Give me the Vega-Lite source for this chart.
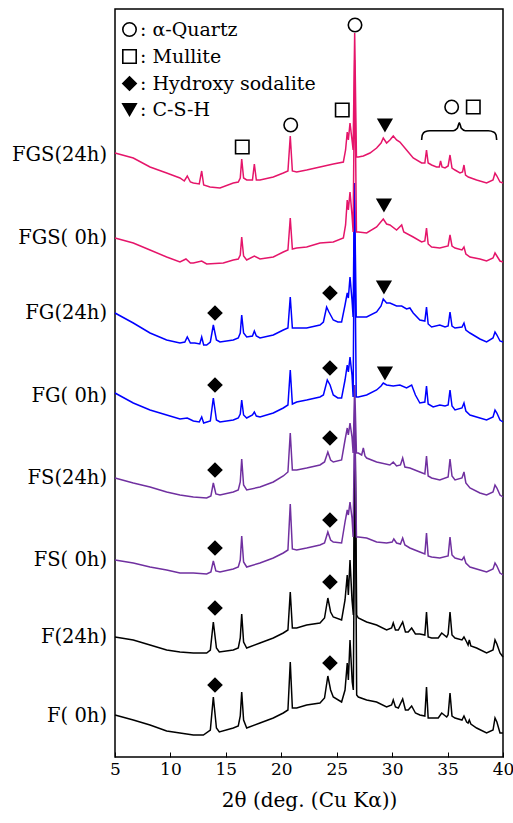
{
  "$schema": "https://vega.github.io/schema/vega-lite/v6.json",
  "width": 388,
  "height": 748,
  "autosize": {"type": "none"},
  "padding": {"left": 115, "top": 9, "right": 10, "bottom": 66},
  "background": "white",
  "datasets": {
    "F0": [
      {"x":5,"i":42},{"x":6.65,"i":37},{"x":8.16,"i":32},{"x":9.66,"i":26},{"x":10.86,"i":24},{"x":12.07,"i":22},{"x":12.97,"i":22},{"x":13.6,"i":27},{"x":13.87,"i":60},{"x":14.15,"i":29},{"x":14.41,"i":25},{"x":15.67,"i":29},{"x":16.12,"i":31},{"x":16.3,"i":41},{"x":16.43,"i":65},{"x":16.6,"i":37},{"x":16.88,"i":29},{"x":18.08,"i":34},{"x":19.28,"i":39},{"x":20.18,"i":44},{"x":20.6,"i":47},{"x":20.81,"i":95},{"x":21.0,"i":49},{"x":21.39,"i":49},{"x":22.29,"i":52},{"x":23.49,"i":54},{"x":23.9,"i":59},{"x":24.2,"i":81},{"x":24.45,"i":67},{"x":24.69,"i":60},{"x":25.44,"i":55},{"x":25.75,"i":67},{"x":25.95,"i":94},{"x":26.05,"i":77},{"x":26.2,"i":117},{"x":26.4,"i":75},{"x":26.5,"i":67},{"x":26.65,"i":327},{"x":26.8,"i":62},{"x":26.95,"i":60},{"x":27.7,"i":57},{"x":28.6,"i":55},{"x":29.5,"i":50},{"x":29.95,"i":52},{"x":30.1,"i":57},{"x":30.3,"i":50},{"x":30.56,"i":49},{"x":30.95,"i":58},{"x":31.2,"i":47},{"x":31.45,"i":47},{"x":31.76,"i":51},{"x":32.1,"i":44},{"x":32.5,"i":42},{"x":32.95,"i":41},{"x":33.1,"i":70},{"x":33.25,"i":39},{"x":33.56,"i":39},{"x":34.16,"i":39},{"x":34.47,"i":44},{"x":34.92,"i":40},{"x":35.05,"i":42},{"x":35.22,"i":64},{"x":35.4,"i":41},{"x":35.67,"i":39},{"x":36.3,"i":37},{"x":36.48,"i":41},{"x":36.72,"i":35},{"x":36.85,"i":34},{"x":36.96,"i":37},{"x":37.1,"i":33},{"x":37.62,"i":29},{"x":38.52,"i":24},{"x":39.1,"i":27},{"x":39.28,"i":39},{"x":39.45,"i":35},{"x":39.73,"i":24},{"x":40,"i":24}
    ],
    "F24": [
      {"x":5,"i":120},{"x":6.65,"i":117},{"x":8.16,"i":112},{"x":9.66,"i":107},{"x":10.86,"i":105},{"x":12.07,"i":104},{"x":13.27,"i":104},{"x":13.6,"i":107},{"x":13.87,"i":135},{"x":14.15,"i":109},{"x":14.41,"i":105},{"x":15.67,"i":107},{"x":16.12,"i":109},{"x":16.3,"i":119},{"x":16.43,"i":143},{"x":16.6,"i":115},{"x":16.88,"i":109},{"x":18.08,"i":114},{"x":19.28,"i":119},{"x":20.18,"i":124},{"x":20.6,"i":127},{"x":20.81,"i":165},{"x":21.0,"i":129},{"x":21.39,"i":129},{"x":22.29,"i":132},{"x":23.49,"i":134},{"x":23.9,"i":139},{"x":24.2,"i":159},{"x":24.45,"i":145},{"x":24.69,"i":140},{"x":25.44,"i":137},{"x":25.75,"i":157},{"x":25.95,"i":182},{"x":26.05,"i":162},{"x":26.2,"i":197},{"x":26.38,"i":157},{"x":26.5,"i":142},{"x":26.65,"i":334},{"x":26.8,"i":142},{"x":26.95,"i":139},{"x":27.7,"i":135},{"x":28.6,"i":132},{"x":29.5,"i":127},{"x":29.95,"i":129},{"x":30.1,"i":134},{"x":30.3,"i":127},{"x":30.56,"i":127},{"x":30.95,"i":135},{"x":31.2,"i":125},{"x":31.45,"i":125},{"x":31.76,"i":129},{"x":32.1,"i":123},{"x":32.5,"i":123},{"x":32.95,"i":122},{"x":33.1,"i":145},{"x":33.25,"i":120},{"x":33.56,"i":119},{"x":34.16,"i":119},{"x":34.47,"i":124},{"x":34.92,"i":120},{"x":35.05,"i":123},{"x":35.22,"i":145},{"x":35.4,"i":122},{"x":35.67,"i":119},{"x":36.3,"i":117},{"x":36.48,"i":120},{"x":36.72,"i":115},{"x":36.85,"i":112},{"x":36.96,"i":117},{"x":37.1,"i":111},{"x":37.62,"i":109},{"x":38.52,"i":104},{"x":39.1,"i":107},{"x":39.28,"i":117},{"x":39.45,"i":113},{"x":39.73,"i":104},{"x":40,"i":100}
    ],
    "FS0": [
      {"x":5,"i":197},{"x":6.65,"i":194},{"x":8.16,"i":190},{"x":9.66,"i":187},{"x":10.86,"i":184},{"x":12.07,"i":184},{"x":13.27,"i":183},{"x":13.65,"i":185},{"x":13.87,"i":196},{"x":14.1,"i":186},{"x":14.47,"i":185},{"x":15.67,"i":188},{"x":16.12,"i":190},{"x":16.3,"i":197},{"x":16.43,"i":221},{"x":16.6,"i":195},{"x":16.88,"i":190},{"x":18.08,"i":194},{"x":19.28,"i":199},{"x":20.18,"i":204},{"x":20.6,"i":207},{"x":20.81,"i":253},{"x":21.0,"i":208},{"x":21.39,"i":207},{"x":22.29,"i":209},{"x":23.49,"i":212},{"x":23.9,"i":214},{"x":24.2,"i":225},{"x":24.45,"i":217},{"x":24.69,"i":215},{"x":25.44,"i":214},{"x":25.75,"i":235},{"x":25.95,"i":247},{"x":26.05,"i":242},{"x":26.2,"i":255},{"x":26.38,"i":239},{"x":26.48,"i":220},{"x":26.62,"i":347},{"x":26.78,"i":220},{"x":26.95,"i":220},{"x":27.7,"i":219},{"x":28.6,"i":215},{"x":29.5,"i":214},{"x":30.0,"i":215},{"x":30.15,"i":218},{"x":30.4,"i":214},{"x":30.75,"i":213},{"x":30.95,"i":219},{"x":31.15,"i":212},{"x":31.6,"i":209},{"x":32.5,"i":205},{"x":32.95,"i":203},{"x":33.1,"i":224},{"x":33.25,"i":201},{"x":33.56,"i":200},{"x":34.3,"i":199},{"x":35.05,"i":201},{"x":35.22,"i":220},{"x":35.4,"i":202},{"x":35.67,"i":199},{"x":36.3,"i":197},{"x":36.48,"i":200},{"x":36.65,"i":194},{"x":37.02,"i":190},{"x":37.92,"i":187},{"x":38.52,"i":185},{"x":39.1,"i":188},{"x":39.28,"i":194},{"x":39.45,"i":191},{"x":39.73,"i":184},{"x":40,"i":182}
    ],
    "FS24": [
      {"x":5,"i":279},{"x":6.65,"i":274},{"x":8.16,"i":270},{"x":9.66,"i":265},{"x":10.86,"i":262},{"x":12.07,"i":260},{"x":13.27,"i":259},{"x":13.65,"i":261},{"x":13.87,"i":274},{"x":14.1,"i":263},{"x":14.47,"i":262},{"x":15.67,"i":265},{"x":16.12,"i":267},{"x":16.3,"i":275},{"x":16.43,"i":298},{"x":16.6,"i":272},{"x":16.88,"i":267},{"x":18.08,"i":270},{"x":19.28,"i":275},{"x":20.18,"i":281},{"x":20.6,"i":285},{"x":20.81,"i":324},{"x":21.0,"i":287},{"x":21.39,"i":287},{"x":22.29,"i":289},{"x":23.49,"i":292},{"x":23.9,"i":295},{"x":24.2,"i":305},{"x":24.45,"i":297},{"x":24.69,"i":295},{"x":25.44,"i":297},{"x":25.75,"i":317},{"x":25.95,"i":329},{"x":26.05,"i":322},{"x":26.2,"i":334},{"x":26.38,"i":320},{"x":26.48,"i":304},{"x":26.62,"i":372},{"x":26.78,"i":304},{"x":26.95,"i":304},{"x":27.25,"i":302},{"x":27.4,"i":309},{"x":27.55,"i":301},{"x":27.7,"i":299},{"x":28.6,"i":295},{"x":29.8,"i":292},{"x":30.1,"i":295},{"x":30.4,"i":291},{"x":30.75,"i":292},{"x":30.95,"i":299},{"x":31.15,"i":290},{"x":31.6,"i":289},{"x":32.5,"i":285},{"x":32.95,"i":283},{"x":33.1,"i":301},{"x":33.25,"i":281},{"x":33.56,"i":279},{"x":34.3,"i":277},{"x":35.05,"i":280},{"x":35.22,"i":298},{"x":35.4,"i":281},{"x":35.67,"i":277},{"x":36.3,"i":279},{"x":36.48,"i":285},{"x":36.65,"i":274},{"x":37.02,"i":269},{"x":37.92,"i":264},{"x":38.52,"i":262},{"x":39.1,"i":265},{"x":39.28,"i":272},{"x":39.45,"i":269},{"x":39.73,"i":262},{"x":40,"i":260}
    ],
    "FG0": [
      {"x":5,"i":364},{"x":6.65,"i":354},{"x":8.16,"i":347},{"x":9.66,"i":342},{"x":10.86,"i":338},{"x":11.52,"i":339},{"x":12.07,"i":336},{"x":12.6,"i":335},{"x":12.82,"i":340},{"x":13.0,"i":334},{"x":13.6,"i":336},{"x":13.87,"i":359},{"x":14.15,"i":337},{"x":14.47,"i":335},{"x":15.67,"i":337},{"x":16.12,"i":339},{"x":16.3,"i":343},{"x":16.43,"i":357},{"x":16.6,"i":342},{"x":16.88,"i":339},{"x":17.4,"i":342},{"x":17.57,"i":345},{"x":17.75,"i":341},{"x":18.08,"i":340},{"x":19.28,"i":344},{"x":20.18,"i":349},{"x":20.6,"i":352},{"x":20.81,"i":387},{"x":21.0,"i":353},{"x":21.39,"i":355},{"x":22.29,"i":357},{"x":23.49,"i":360},{"x":23.8,"i":362},{"x":24.15,"i":377},{"x":24.4,"i":372},{"x":24.69,"i":362},{"x":25.1,"i":359},{"x":25.44,"i":359},{"x":25.75,"i":377},{"x":25.95,"i":392},{"x":26.05,"i":385},{"x":26.2,"i":400},{"x":26.38,"i":382},{"x":26.48,"i":360},{"x":26.6,"i":557},{"x":26.76,"i":360},{"x":26.95,"i":360},{"x":27.7,"i":362},{"x":28.6,"i":367},{"x":29.0,"i":371},{"x":29.2,"i":374},{"x":29.5,"i":372},{"x":30.1,"i":371},{"x":30.7,"i":372},{"x":31.3,"i":369},{"x":31.76,"i":372},{"x":32.1,"i":362},{"x":32.5,"i":354},{"x":32.95,"i":355},{"x":33.1,"i":371},{"x":33.25,"i":353},{"x":33.7,"i":350},{"x":34.3,"i":352},{"x":34.77,"i":351},{"x":35.05,"i":352},{"x":35.22,"i":367},{"x":35.4,"i":351},{"x":35.67,"i":347},{"x":36.3,"i":349},{"x":36.48,"i":354},{"x":36.65,"i":346},{"x":37.02,"i":342},{"x":37.92,"i":339},{"x":38.52,"i":337},{"x":39.1,"i":340},{"x":39.28,"i":347},{"x":39.45,"i":344},{"x":39.73,"i":337},{"x":40,"i":335}
    ],
    "FG24": [
      {"x":5,"i":444},{"x":6.65,"i":434},{"x":8.16,"i":424},{"x":9.66,"i":417},{"x":10.86,"i":414},{"x":11.3,"i":415},{"x":11.52,"i":420},{"x":11.8,"i":414},{"x":12.2,"i":414},{"x":12.65,"i":413},{"x":12.82,"i":420},{"x":13.0,"i":412},{"x":13.27,"i":412},{"x":13.6,"i":415},{"x":13.87,"i":432},{"x":14.15,"i":417},{"x":14.47,"i":415},{"x":15.67,"i":417},{"x":16.12,"i":419},{"x":16.3,"i":424},{"x":16.43,"i":442},{"x":16.6,"i":424},{"x":16.88,"i":420},{"x":17.4,"i":421},{"x":17.57,"i":426},{"x":17.75,"i":421},{"x":18.08,"i":419},{"x":19.28,"i":422},{"x":20.18,"i":427},{"x":20.6,"i":429},{"x":20.81,"i":460},{"x":21.0,"i":429},{"x":21.39,"i":429},{"x":22.29,"i":429},{"x":23.49,"i":432},{"x":23.8,"i":435},{"x":24.09,"i":450},{"x":24.3,"i":445},{"x":24.69,"i":437},{"x":25.1,"i":435},{"x":25.44,"i":435},{"x":25.75,"i":452},{"x":25.95,"i":464},{"x":26.05,"i":459},{"x":26.2,"i":480},{"x":26.38,"i":457},{"x":26.48,"i":440},{"x":26.6,"i":574},{"x":26.76,"i":440},{"x":26.95,"i":440},{"x":27.7,"i":440},{"x":28.6,"i":445},{"x":29.0,"i":451},{"x":29.2,"i":458},{"x":29.5,"i":454},{"x":29.8,"i":454},{"x":30.4,"i":451},{"x":30.86,"i":451},{"x":31.3,"i":448},{"x":31.6,"i":449},{"x":31.9,"i":444},{"x":32.5,"i":437},{"x":32.95,"i":436},{"x":33.1,"i":450},{"x":33.25,"i":433},{"x":33.56,"i":430},{"x":34.3,"i":432},{"x":34.77,"i":430},{"x":35.05,"i":431},{"x":35.22,"i":445},{"x":35.4,"i":431},{"x":35.67,"i":429},{"x":36.3,"i":430},{"x":36.48,"i":434},{"x":36.65,"i":427},{"x":37.02,"i":424},{"x":37.92,"i":418},{"x":38.52,"i":415},{"x":39.1,"i":419},{"x":39.28,"i":425},{"x":39.45,"i":422},{"x":39.73,"i":416},{"x":40,"i":415}
    ],
    "FGS0": [
      {"x":5,"i":519},{"x":6.65,"i":514},{"x":8.16,"i":507},{"x":9.66,"i":500},{"x":10.86,"i":495},{"x":11.4,"i":498},{"x":11.8,"i":494},{"x":12.07,"i":494},{"x":12.82,"i":496},{"x":13.27,"i":493},{"x":14.77,"i":494},{"x":15.67,"i":497},{"x":16.12,"i":498},{"x":16.3,"i":502},{"x":16.43,"i":520},{"x":16.6,"i":501},{"x":16.88,"i":497},{"x":17.57,"i":501},{"x":18.08,"i":498},{"x":19.28,"i":500},{"x":20.18,"i":505},{"x":20.6,"i":507},{"x":20.81,"i":539},{"x":21.0,"i":508},{"x":21.39,"i":509},{"x":22.29,"i":510},{"x":23.49,"i":514},{"x":24.69,"i":515},{"x":25.6,"i":519},{"x":25.8,"i":532},{"x":25.95,"i":557},{"x":26.05,"i":547},{"x":26.2,"i":565},{"x":26.38,"i":542},{"x":26.48,"i":525},{"x":26.62,"i":697},{"x":26.78,"i":525},{"x":26.95,"i":525},{"x":27.7,"i":524},{"x":28.6,"i":530},{"x":29.2,"i":538},{"x":29.5,"i":533},{"x":29.8,"i":532},{"x":30.4,"i":527},{"x":30.86,"i":532},{"x":31.05,"i":525},{"x":31.9,"i":520},{"x":32.66,"i":515},{"x":32.95,"i":516},{"x":33.1,"i":529},{"x":33.25,"i":513},{"x":33.56,"i":510},{"x":34.3,"i":509},{"x":35.05,"i":511},{"x":35.22,"i":522},{"x":35.4,"i":511},{"x":35.67,"i":509},{"x":36.3,"i":507},{"x":36.48,"i":510},{"x":36.65,"i":503},{"x":37.02,"i":500},{"x":37.92,"i":498},{"x":38.52,"i":496},{"x":39.1,"i":499},{"x":39.28,"i":504},{"x":39.45,"i":501},{"x":39.73,"i":496},{"x":40,"i":495}
    ],
    "FGS24": [
      {"x":5,"i":604},{"x":6.65,"i":599},{"x":8.16,"i":590},{"x":9.66,"i":584},{"x":10.86,"i":579},{"x":11.25,"i":576},{"x":11.52,"i":581},{"x":11.8,"i":575},{"x":12.07,"i":574},{"x":12.6,"i":573},{"x":12.82,"i":586},{"x":13.0,"i":572},{"x":13.57,"i":570},{"x":14.47,"i":569},{"x":15.67,"i":574},{"x":16.12,"i":575},{"x":16.3,"i":579},{"x":16.43,"i":598},{"x":16.6,"i":579},{"x":16.88,"i":577},{"x":17.4,"i":577},{"x":17.57,"i":593},{"x":17.75,"i":577},{"x":18.08,"i":577},{"x":19.28,"i":580},{"x":20.18,"i":584},{"x":20.6,"i":586},{"x":20.81,"i":621},{"x":21.0,"i":586},{"x":21.39,"i":585},{"x":22.29,"i":587},{"x":23.49,"i":590},{"x":24.69,"i":593},{"x":25.6,"i":595},{"x":25.8,"i":607},{"x":25.95,"i":625},{"x":26.05,"i":617},{"x":26.2,"i":634},{"x":26.38,"i":617},{"x":26.48,"i":607},{"x":26.62,"i":724},{"x":26.78,"i":600},{"x":26.95,"i":600},{"x":27.4,"i":601},{"x":28.0,"i":604},{"x":28.6,"i":609},{"x":29.0,"i":614},{"x":29.2,"i":619},{"x":29.5,"i":614},{"x":29.8,"i":617},{"x":30.1,"i":621},{"x":30.4,"i":617},{"x":30.7,"i":615},{"x":31.3,"i":607},{"x":31.9,"i":599},{"x":32.66,"i":594},{"x":32.95,"i":594},{"x":33.1,"i":607},{"x":33.25,"i":594},{"x":33.56,"i":592},{"x":34.0,"i":590},{"x":34.25,"i":590},{"x":34.37,"i":596},{"x":34.5,"i":590},{"x":34.77,"i":589},{"x":35.05,"i":591},{"x":35.22,"i":602},{"x":35.4,"i":589},{"x":35.67,"i":587},{"x":36.12,"i":584},{"x":36.35,"i":585},{"x":36.48,"i":592},{"x":36.62,"i":582},{"x":36.87,"i":580},{"x":37.62,"i":577},{"x":38.52,"i":574},{"x":39.1,"i":577},{"x":39.28,"i":584},{"x":39.45,"i":581},{"x":39.73,"i":575},{"x":40,"i":574}
    ],
    "labels": [
      {"label":"FGS(24h)","x":5,"i":602},{"label":"FGS( 0h)","x":5,"i":519},{"label":"FG(24h)","x":5,"i":444},{"label":"FG( 0h)","x":5,"i":361},{"label":"FS(24h)","x":5,"i":279},{"label":"FS( 0h)","x":5,"i":197},{"label":"F(24h)","x":5,"i":120},{"label":"F( 0h)","x":5,"i":41}
    ],
    "phases": [
      {"phase":"α-Quartz","x":26.65,"i":732},{"phase":"α-Quartz","x":20.85,"i":632},{"phase":"α-Quartz","x":35.37,"i":650},
      {"phase":"Mullite","x":16.48,"i":610},{"phase":"Mullite","x":25.5,"i":647},{"phase":"Mullite","x":37.32,"i":650},
      {"phase":"C-S-H","x":29.35,"i":632},{"phase":"C-S-H","x":29.26,"i":552},{"phase":"C-S-H","x":29.26,"i":470},{"phase":"C-S-H","x":29.35,"i":384},
      {"phase":"Hydroxy sodalite","x":14.02,"i":444},{"phase":"Hydroxy sodalite","x":24.39,"i":464},
      {"phase":"Hydroxy sodalite","x":14.02,"i":372},{"phase":"Hydroxy sodalite","x":24.39,"i":389},
      {"phase":"Hydroxy sodalite","x":14.02,"i":287},{"phase":"Hydroxy sodalite","x":24.39,"i":319},
      {"phase":"Hydroxy sodalite","x":14.02,"i":209},{"phase":"Hydroxy sodalite","x":24.39,"i":237},
      {"phase":"Hydroxy sodalite","x":14.02,"i":149},{"phase":"Hydroxy sodalite","x":24.39,"i":175},
      {"phase":"Hydroxy sodalite","x":14.02,"i":72},{"phase":"Hydroxy sodalite","x":24.39,"i":94}
    ],
    "brace": [
      {"x":32.66,"i":617},{"x":32.72,"i":622},{"x":32.96,"i":625.3},{"x":33.41,"i":626.3},{"x":35.52,"i":626.3},{"x":35.88,"i":628.7},{"x":36.06,"i":634.3},{"x":36.24,"i":628.7},{"x":36.6,"i":626.3},{"x":38.67,"i":626.3},{"x":39.19,"i":624.7},{"x":39.37,"i":622},{"x":39.43,"i":617}
    ]
  },
  "encoding": {
    "x": {
      "field": "x",
      "type": "quantitative",
      "scale": {"domain": [5, 40], "nice": false, "zero": false},
      "axis": {
        "values": [5, 10, 15, 20, 25, 30, 35, 40],
        "title": "2θ (deg. (Cu Kα))",
        "domain": false,
        "grid": false,
        "tickSize": -5,
        "tickColor": "black",
        "tickWidth": 1,
        "labelPadding": 9,
        "labelFlush": false,
        "labelOverlap": false,
        "labelFontSize": 17,
        "labelColor": "black",
        "titleFontSize": 20,
        "titleFontWeight": "normal",
        "titleColor": "black",
        "titlePadding": 13
      }
    },
    "y": {
      "field": "i",
      "type": "quantitative",
      "scale": {"domain": [0, 748], "nice": false, "zero": false},
      "axis": null
    }
  },
  "layer": [
    {"data": {"name": "F0"}, "mark": {"type": "line", "color": "#000000", "strokeWidth": 1.5}},
    {"data": {"name": "F24"}, "mark": {"type": "line", "color": "#000000", "strokeWidth": 1.5}},
    {"data": {"name": "FS0"}, "mark": {"type": "line", "color": "#7030A0", "strokeWidth": 1.5}},
    {"data": {"name": "FS24"}, "mark": {"type": "line", "color": "#7030A0", "strokeWidth": 1.5}},
    {"data": {"name": "FG0"}, "mark": {"type": "line", "color": "#0000FF", "strokeWidth": 1.5}},
    {"data": {"name": "FG24"}, "mark": {"type": "line", "color": "#0000FF", "strokeWidth": 1.5}},
    {"data": {"name": "FGS0"}, "mark": {"type": "line", "color": "#E5156A", "strokeWidth": 1.5}},
    {"data": {"name": "FGS24"}, "mark": {"type": "line", "color": "#E5156A", "strokeWidth": 1.5}},
    {"data": {"name": "brace"}, "mark": {"type": "line", "color": "black", "strokeWidth": 1.6, "interpolate": "monotone"}},
    {
      "data": {"name": "phases"},
      "mark": {"type": "point", "filled": true, "strokeWidth": 1.6, "opacity": 1},
      "encoding": {
        "shape": {
          "field": "phase", "type": "nominal",
          "scale": {"domain": ["α-Quartz", "Mullite", "Hydroxy sodalite", "C-S-H"], "range": ["circle", "square", "diamond", "triangle-down"]},
          "legend": {"title": null, "labelExpr": "': ' + datum.label", "orient": "none", "legendX": 5, "legendY": 11}
        },
        "fill": {
          "field": "phase", "type": "nominal",
          "scale": {"domain": ["α-Quartz", "Mullite", "Hydroxy sodalite", "C-S-H"], "range": ["white", "white", "black", "black"]},
          "legend": {"title": null, "labelExpr": "': ' + datum.label", "orient": "none", "legendX": 5, "legendY": 11}
        },
        "stroke": {
          "field": "phase", "type": "nominal",
          "scale": {"domain": ["α-Quartz", "Mullite", "Hydroxy sodalite", "C-S-H"], "range": ["black", "black", "black", "black"]},
          "legend": {"title": null, "labelExpr": "': ' + datum.label", "orient": "none", "legendX": 5, "legendY": 11}
        },
        "size": {
          "field": "phase", "type": "nominal",
          "scale": {"domain": ["α-Quartz", "Mullite", "Hydroxy sodalite", "C-S-H"], "range": [180, 180, 240, 225]},
          "legend": {"title": null, "labelExpr": "': ' + datum.label", "orient": "none", "legendX": 5, "legendY": 11}
        }
      }
    },
    {
      "data": {"name": "labels"},
      "mark": {"type": "text", "align": "right", "baseline": "middle", "dx": -8, "fontSize": 19.5, "color": "black"},
      "encoding": {"text": {"field": "label"}}
    }
  ],
  "config": {
    "font": "DejaVu Serif",
    "view": {"stroke": "black", "strokeWidth": 1.5},
    "legend": {
      "padding": 0,
      "rowPadding": 6,
      "labelFontSize": 19,
      "labelColor": "black",
      "labelOffset": 1,
      "labelLimit": 400,
      "symbolStrokeWidth": 1.6,
      "symbolOpacity": 1
    }
  }
}
